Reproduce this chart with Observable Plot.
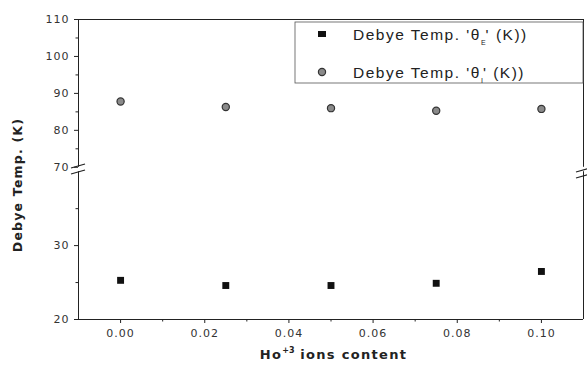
<!DOCTYPE html>
<html>
<head>
<meta charset="utf-8">
<script src="https://cdn.jsdelivr.net/npm/d3@7"></script>
<script src="https://cdn.jsdelivr.net/npm/@observablehq/plot@0.6"></script>
<style>
  html, body { margin: 0; padding: 0; background: #fff; }
  #chart { position: relative; width: 587px; height: 372px; }
</style>
</head>
<body>
<div id="chart"></div>
<script>
// ---- data ----
const content = [0.00, 0.025, 0.05, 0.075, 0.10];
const thetaE = [25.3, 24.6, 24.6, 24.9, 26.5];
const thetaD = [87.8, 86.3, 86.0, 85.3, 85.8];
const xTicks = [0.00, 0.02, 0.04, 0.06, 0.08, 0.10];
const xMinor = [0.01, 0.03, 0.05, 0.07, 0.09];
const yTicks = [20, 30, 70, 80, 90, 100, 110];
const yMinor = [25, 35, 75, 85, 95, 105];
const xDomain = [-0.01, 0.11];
const lowerRange = [20, 40];
const upperRange = [70, 110];
const seriesNames = ["Debye Temp. 'θ", "E", "' (K))", "Debye Temp. 'θ", "I", "' (K))"];

// broken axis: lower segment at full scale, upper segment at half scale, small gap between
const gapUnits = 0.6;
const upperScale = 0.5;
function brk(v) {
  return v <= lowerRange[1]
    ? v - lowerRange[0]
    : (lowerRange[1] - lowerRange[0]) + gapUnits + (v - upperRange[0]) * upperScale;
}
const yTop = brk(upperRange[1]);

const dataE = content.map((x, i) => ({x, y: brk(thetaE[i])}));
const dataD = content.map((x, i) => ({x, y: brk(thetaD[i])}));
const tickMap = new Map(yTicks.map(v => [brk(v), v]));

const ink = "#222";
const tickFont = "DejaVu Sans, sans-serif";

const plot = Plot.plot({
  width: 587,
  height: 372,
  marginLeft: 78,
  marginRight: 4,
  marginTop: 19,
  marginBottom: 53,
  style: {fontFamily: tickFont, fontSize: "11px", color: "#333", background: "#fff"},
  x: {domain: xDomain, label: null},
  y: {domain: [0, yTop], label: null},
  marks: [
    // frame segments
    Plot.ruleX([xDomain[0], xDomain[1]], {y1: brk(lowerRange[0]), y2: brk(lowerRange[1]), stroke: ink}),
    Plot.ruleX([xDomain[0], xDomain[1]], {y1: brk(upperRange[0]), y2: brk(upperRange[1]), stroke: ink}),
    Plot.ruleY([brk(lowerRange[0]), brk(upperRange[1])], {x1: xDomain[0], x2: xDomain[1], stroke: ink}),
    // axes
    Plot.axisX({ticks: xTicks, tickFormat: d3.format(".2f"), tickSize: 4, tickPadding: 6, label: null, stroke: ink}),
    Plot.axisX({ticks: xMinor, tickFormat: () => "", tickSize: 2.5, label: null, stroke: ink}),
    Plot.axisY({ticks: yTicks.map(brk), tickFormat: d => String(tickMap.get(d)), tickSize: 4, tickPadding: 5, label: null, stroke: ink}),
    Plot.axisY({ticks: yMinor.map(brk), tickFormat: () => "", tickSize: 2.5, label: null, stroke: ink}),
    // data
    Plot.dot(dataD, {x: "x", y: "y", symbol: "circle", r: 3.6, fill: "#8a8a8a", stroke: "#333", strokeWidth: 1.2}),
    Plot.dot(dataE, {x: "x", y: "y", symbol: "square", r: 3.9, fill: "#111"})
  ]
});

document.getElementById("chart").appendChild(plot);

const svg = d3.select(plot);
svg.selectAll("g[aria-label='x-axis tick label'] text, g[aria-label='y-axis tick label'] text")
  .attr("letter-spacing", "1");

const xs = plot.scale("x");
const ys = plot.scale("y");
const xL = xs.apply(xDomain[0]);
const xR = xs.apply(xDomain[1]);
const yTopPx = ys.apply(yTop);
const yBotPx = ys.apply(0);
const yGap = (ys.apply(brk(lowerRange[1])) + ys.apply(brk(upperRange[0]))) / 2;

// axis break marks
for (const [xc, off] of [[xL, 0], [xR, 4]]) {
  for (const dy of [-3, 3]) {
    svg.append("line")
      .attr("x1", xc - 7).attr("y1", yGap + off + dy + 2)
      .attr("x2", xc + 7).attr("y2", yGap + off + dy - 2)
      .attr("stroke", ink).attr("stroke-width", 1.2);
  }
}

// axis labels
const xLab = svg.append("text")
  .attr("x", (xL + xR) / 2 + 3).attr("y", 359)
  .attr("text-anchor", "middle")
  .attr("font-family", "DejaVu Sans, sans-serif").attr("font-weight", "bold").attr("font-size", 13)
  .attr("letter-spacing", 1.3)
  .attr("fill", ink);
xLab.append("tspan").text("Ho");
xLab.append("tspan").attr("dy", -6).attr("font-size", 8).attr("letter-spacing", 0).text("+3");
xLab.append("tspan").attr("dy", 6).text(" ions content");

svg.append("text")
  .attr("transform", `translate(22,${(yTopPx + yBotPx) / 2 + 16}) rotate(-90)`)
  .attr("text-anchor", "middle")
  .attr("font-family", "DejaVu Sans, sans-serif").attr("font-weight", "bold").attr("font-size", 12.5)
  .attr("letter-spacing", 1.2)
  .attr("fill", ink)
  .text("Debye Temp. (K)");

// legend
const lg = svg.append("g").attr("text-anchor", "start");
const lgX = 295, lgY = yTopPx + 3, lgW = xR - 295, lgH = 61;
lg.append("rect").attr("x", lgX).attr("y", lgY).attr("width", lgW).attr("height", lgH)
  .attr("fill", "#fff").attr("stroke", "#555").attr("stroke-width", 0.8);
lg.append("rect").attr("x", 318).attr("y", lgY + 9).attr("width", 8).attr("height", 6).attr("fill", "#111");
lg.append("circle").attr("cx", 322).attr("cy", lgY + 50).attr("r", 3.6)
  .attr("fill", "#8a8a8a").attr("stroke", "#333").attr("stroke-width", 1.2);
for (const [i, yy] of [[0, lgY + 18], [1, lgY + 56]]) {
  const t = lg.append("text").attr("x", 353).attr("y", yy).attr("text-anchor", "start")
    .attr("font-family", "Liberation Sans, Arial, sans-serif").attr("font-size", 15.5)
    .attr("letter-spacing", 1.5).attr("fill", ink);
  t.append("tspan").text(seriesNames[i * 3]);
  t.append("tspan").attr("dy", 5).attr("font-size", 7).attr("letter-spacing", 0).text(seriesNames[i * 3 + 1]);
  t.append("tspan").attr("dy", -5).text(seriesNames[i * 3 + 2]);
}
</script>
</body>
</html>
